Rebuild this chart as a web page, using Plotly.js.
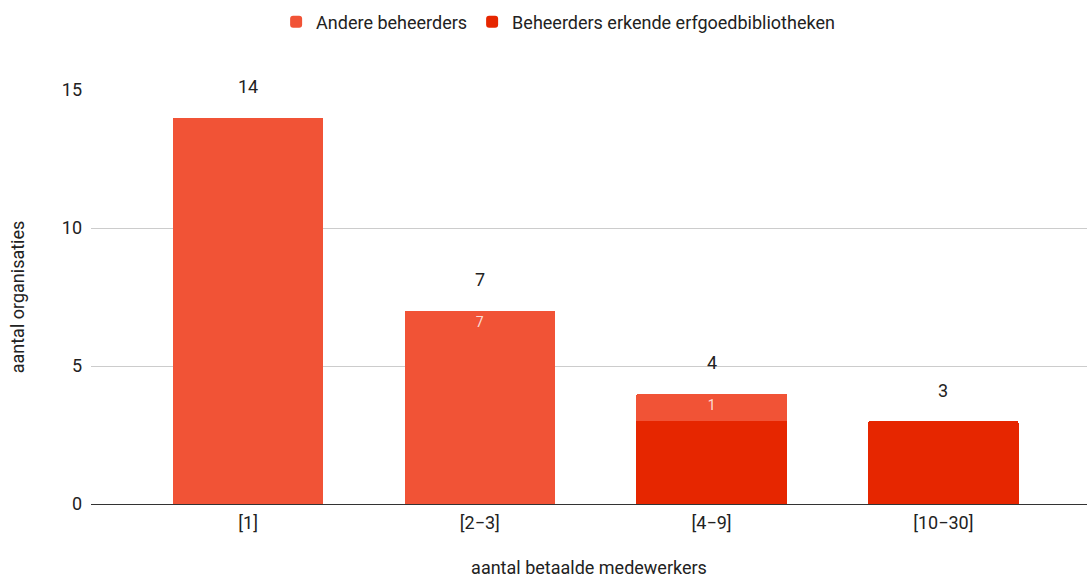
<!DOCTYPE html>
<html>
<head>
<meta charset="utf-8">
<script src="https://cdn.plot.ly/plotly-3.0.1.min.js"></script>
<style>html,body{margin:0;padding:0;background:#fff;}#chart{width:1087px;height:578px;}</style>
</head>
<body>
<div id="chart"></div>
<script>
const categories = ["[1]", "[2\u22123]", "[4\u22129]", "[10\u221230]"];
const erkende = [0, 0, 3, 3];
const andere = [14, 7, 1, 0];
const andereLabels = ["", "7", "1", ""];
const seriesNames = ["Andere beheerders", "Beheerders erkende erfgoedbibliotheken"];
const xTitle = "aantal betaalde medewerkers";
const yTitle = "aantal organisaties";

const totals = categories.map((c, i) => erkende[i] + andere[i]);

const font = "Roboto, 'Noto Sans', sans-serif";

const traces = [
  {
    type: "bar", name: seriesNames[1], x: categories, y: erkende,
    marker: {color: "#e62600", cornerradius: 2}, width: 0.65,
    hoverinfo: "skip"
  },
  {
    type: "bar", name: seriesNames[0], x: categories, y: andere,
    marker: {color: "#f15336", cornerradius: 2}, width: 0.65,
    text: andereLabels, textposition: "inside", insidetextanchor: "end",
    textfont: {family: font, size: 14, color: "rgba(255,255,255,0.8)"},
    hoverinfo: "skip"
  }
];

const annotations = categories.map((c, i) => ({
  x: c, y: totals[i], text: String(totals[i]), showarrow: false,
  yshift: 31, font: {family: font, size: 18, color: "#222"}
}));

const layout = {
  width: 1087, height: 578,
  margin: {l: 91, r: 0, t: 90, b: 74, autoexpand: false},
  paper_bgcolor: "#fff", plot_bgcolor: "#fff",
  barmode: "stack",
  font: {family: font, size: 18, color: "#222"},
  showlegend: true,
  legend: {orientation: "h", x: 0.469, xanchor: "center", y: 1.164, yanchor: "middle",
           traceorder: "reversed", font: {family: font, size: 18, color: "#222"}},
  xaxis: {
    range: [-0.678, 3.62], showgrid: false, zeroline: false,
    showline: true, linecolor: "#333", linewidth: 1,
    ticks: "", tickfont: {family: font, size: 18, color: "#222"}, ticklabelstandoff: 2,
    title: {text: xTitle, font: {family: font, size: 18, color: "#222"}, standoff: 34}
  },
  yaxis: {
    range: [0, 15], tickvals: [0, 5, 10, 15], ticktext: ["0","5","10","15"],
    showgrid: true, gridcolor: "#cccccc", zeroline: false,
    tickfont: {family: font, size: 18, color: "#222"}, ticklabelstandoff: 8,
    title: {text: yTitle, font: {family: font, size: 18, color: "#222"}, standoff: 32}
  },
  annotations: annotations
};

Plotly.newPlot("chart", traces, layout, {displayModeBar: false, staticPlot: true});
</script>
</body>
</html>
